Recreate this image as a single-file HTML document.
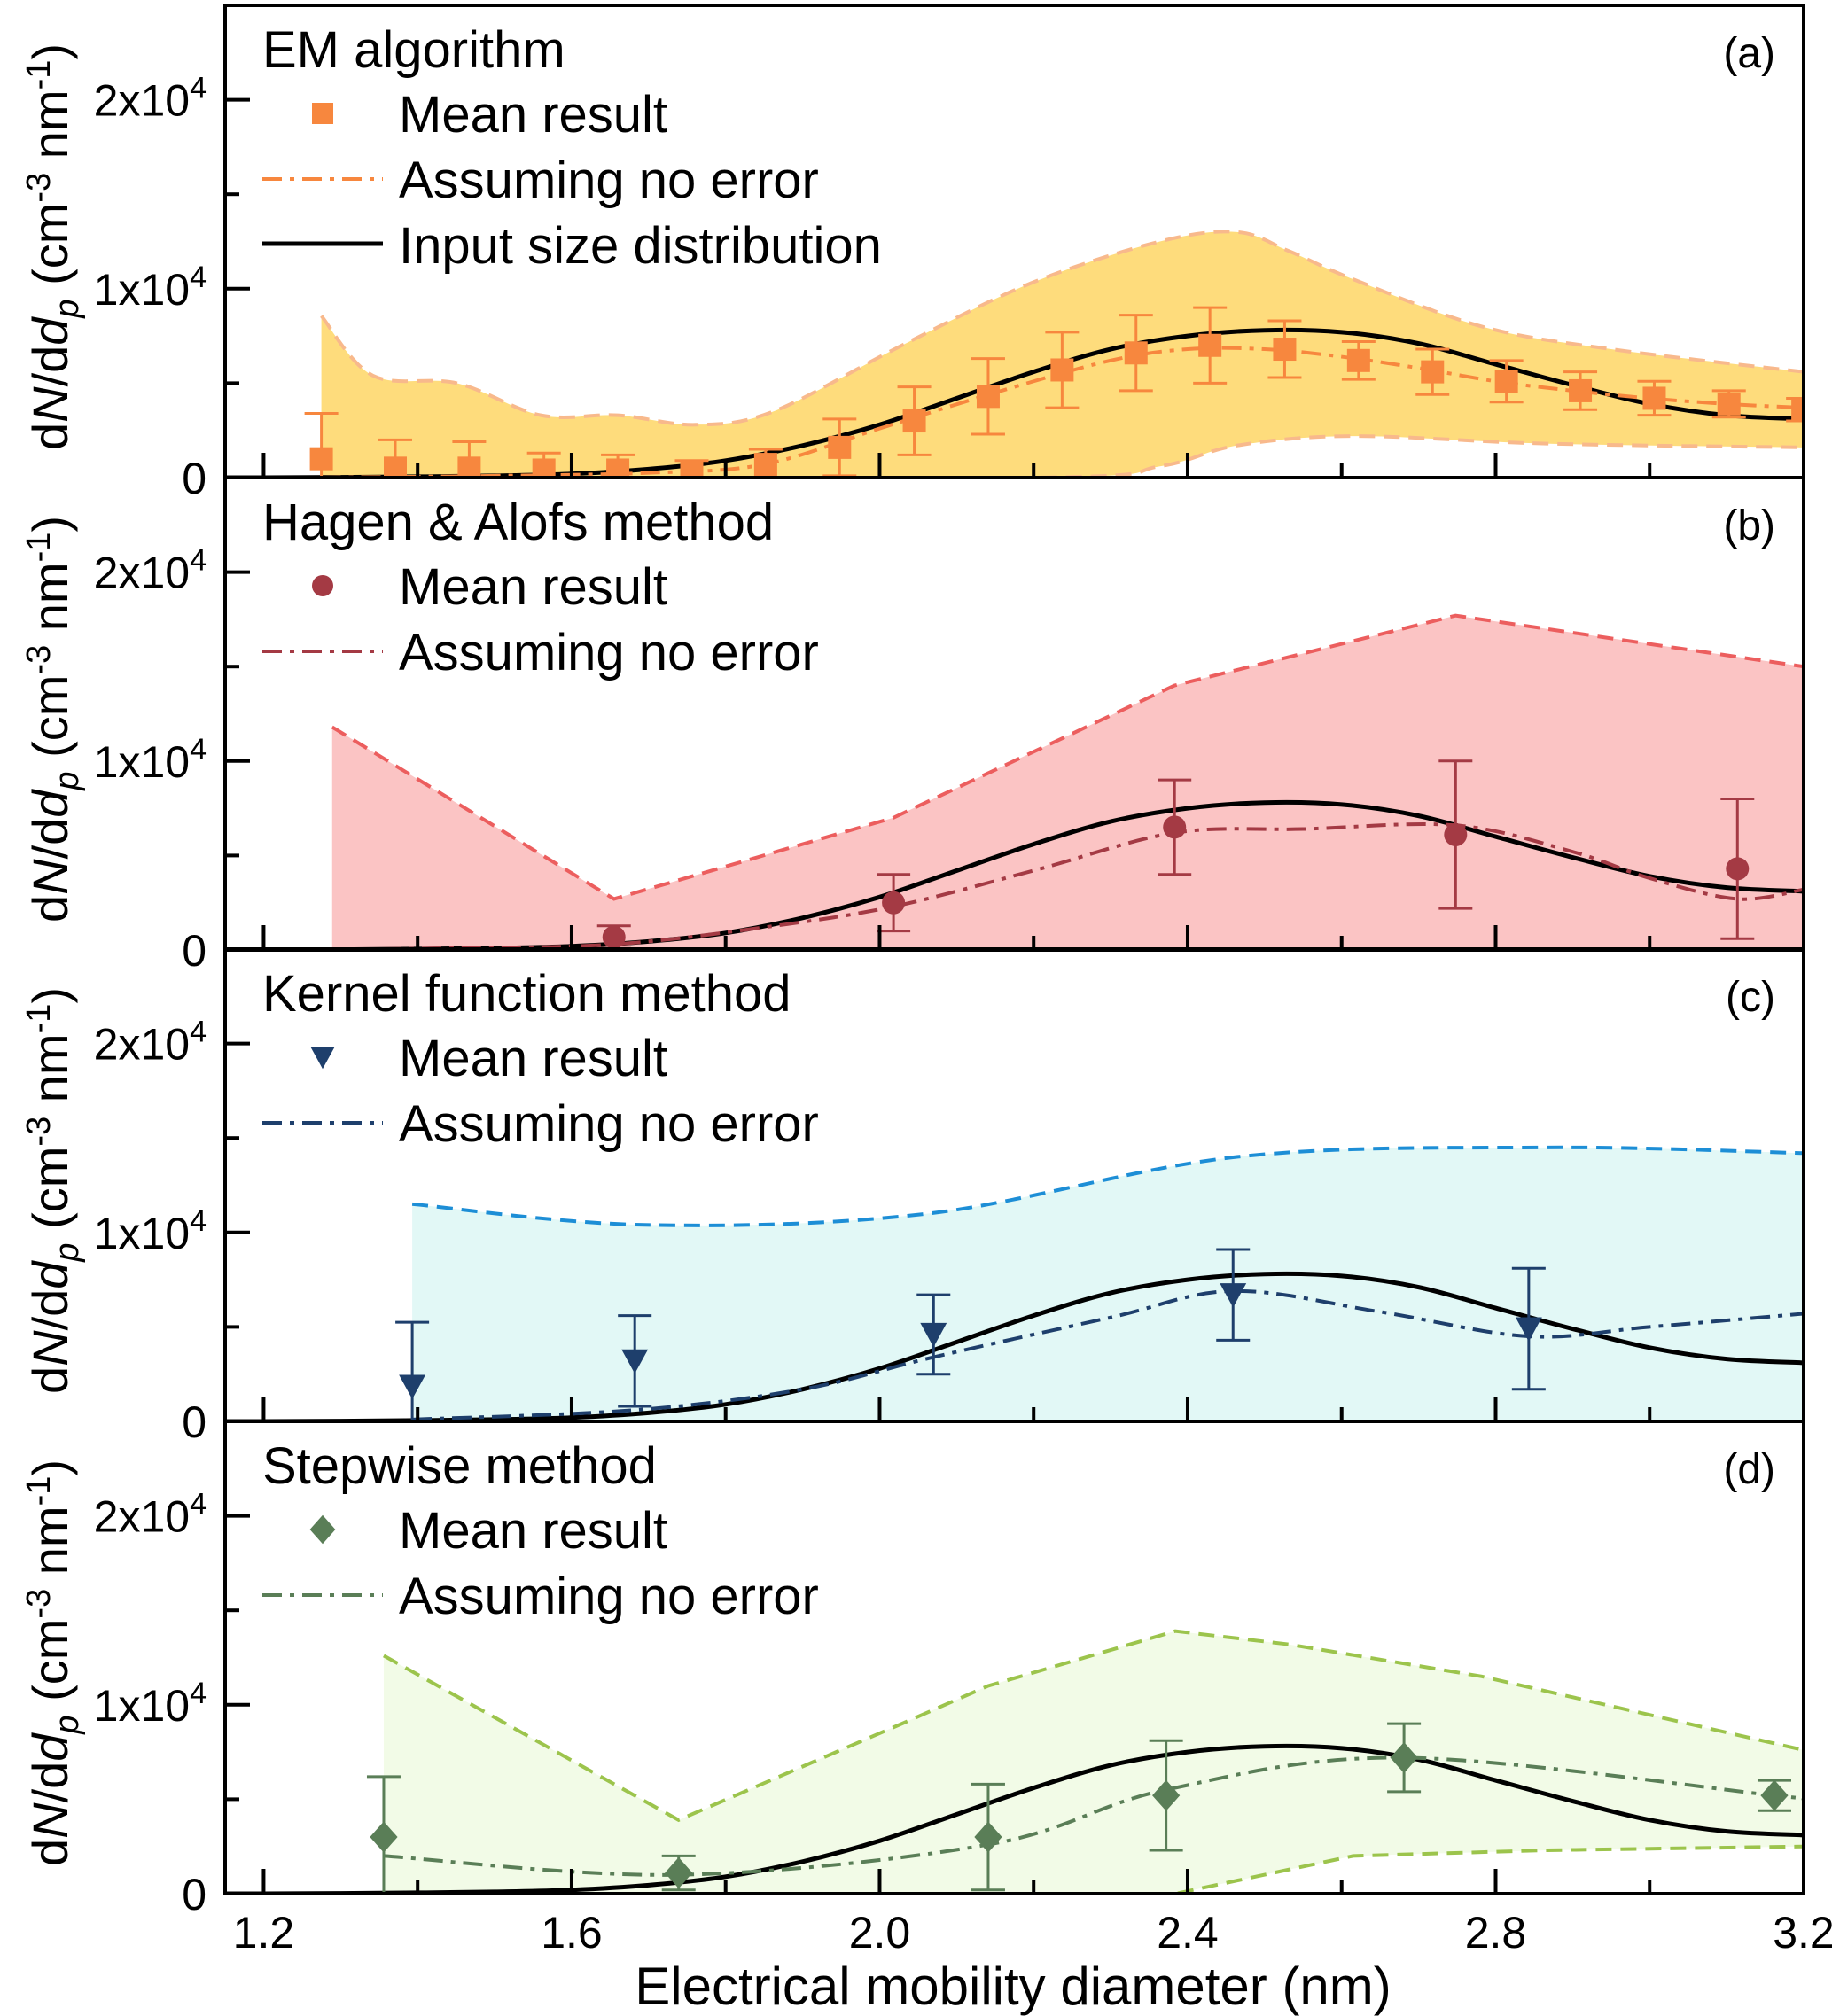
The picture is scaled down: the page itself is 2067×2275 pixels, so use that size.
<!DOCTYPE html>
<html><head><meta charset="utf-8"><style>
html,body{margin:0;padding:0;background:#fff;}
svg{display:block;font-family:"Liberation Sans",Arial,sans-serif;}
</style></head><body>
<svg id="chart" width="2067" height="2275" viewBox="0 0 2067 2275" xmlns="http://www.w3.org/2000/svg">
<g id="root"></g>
</svg>
<script>
// ---- shared data ----
const inputX = [1.15,1.2,1.3,1.4,1.5,1.6,1.7,1.8,1.9,2.0,2.1,2.2,2.3,2.4,2.5,2.6,2.7,2.8,2.9,3.0,3.1,3.2];
const inputY = [0,0,20,50,100,200,450,900,1700,2800,4200,5600,6800,7500,7800,7700,7100,6000,4900,3900,3300,3100];
const xTicks = [1.2,1.6,2.0,2.4,2.8,3.2];
const xTickLabels = ["1.2","1.6","2.0","2.4","2.8","3.2"];
const yTicks = [0,10000,20000];
// ---- panel a: EM ----
const aX = [1.275,1.371,1.467,1.564,1.660,1.756,1.852,1.948,2.045,2.141,2.237,2.333,2.429,2.526,2.622,2.718,2.814,2.910,3.006,3.103,3.199];
const aY = [1000,500,500,400,400,300,700,1600,3000,4300,5700,6600,7000,6800,6200,5600,5100,4600,4200,3900,3600];
const aErr = [2400,1500,1400,900,800,600,800,1500,1800,2000,2000,2000,2000,1500,1000,1200,1100,1000,900,700,600];
const aLineX = [1.275,1.5,1.7,1.85,2.0,2.15,2.3,2.4,2.5,2.6,2.7,2.8,2.9,3.0,3.1,3.2];
const aLineY = [0,100,250,700,2600,4500,6200,6800,6800,6400,5800,5100,4600,4200,3900,3700];
const aUpX = [1.275,1.342,1.451,1.560,1.660,1.761,1.862,2.029,2.197,2.364,2.464,2.531,2.615,2.782,2.950,3.200];
const aUpY = [8560,5400,5000,3300,3300,2800,3500,7000,10300,12500,13000,12000,10500,8000,6800,5600];
const aLoX = [1.275,2.197,2.364,2.464,2.615,2.866,3.200];
const aLoY = [0,0,600,1700,2200,1800,1600];
// ---- panel b: Hagen ----
const bX = [1.655,2.018,2.383,2.748,3.114];
const bY = [680,2500,6500,6100,4300];
const bErr = [600,1500,2500,3900,3700];
const bLineX = [1.25,1.45,1.655,1.85,2.018,2.2,2.383,2.55,2.748,2.9,3.0,3.114,3.2];
const bLineY = [0,100,300,1200,2300,4200,6200,6400,6600,5200,3800,2700,3200];
const bUpX = [1.289,1.655,2.018,2.383,2.748,3.200];
const bUpY = [11800,2700,7000,14000,17700,15000];
const bLoX = [1.289,3.200];
const bLoY = [0,0];
// ---- panel c: Kernel ----
const cX = [1.393,1.682,2.070,2.459,2.843];
const cY = [1850,3200,4600,6700,4900];
const cErr = [3400,2400,2100,2400,3200];
const cLineX = [1.393,1.682,1.9,2.070,2.3,2.459,2.65,2.843,3.0,3.2];
const cLineY = [100,600,1700,3400,5500,6900,5800,4500,5000,5700];
const cUpX = [1.393,1.695,2.063,2.464,2.866,3.200];
const cUpY = [11500,10400,11000,14000,14500,14200];
const cLoX = [1.393,3.200];
const cLoY = [0,0];
// ---- panel d: Stepwise ----
const dX = [1.356,1.739,2.141,2.372,2.681,3.162];
const dY = [3000,1100,3000,5200,7200,5200];
const dErr = [3200,900,2800,2900,1800,800];
const dLineX = [1.356,1.739,2.141,2.372,2.681,3.162,3.2];
const dLineY = [2000,1000,2600,5500,7200,5200,5000];
const dUpX = [1.356,1.739,2.029,2.141,2.384,2.531,2.782,3.200];
const dUpY = [12600,3900,9000,11000,13900,13200,11500,7600];
const dLoX = [1.356,2.384,2.615,2.866,3.200];
const dLoY = [0,0,2000,2300,2500];

const NS = "http://www.w3.org/2000/svg";
const root = document.getElementById('root');
const L = 254, R = 2035, X0 = 1.15, X1 = 3.2, PH = 533, YMAX = 25000;
const tops = [6, 539, 1071, 1604];
function xs(v){ return L + (v - X0) / (X1 - X0) * (R - L); }
function mk(tag, attrs, parent){ const e = document.createElementNS(NS, tag); for (const k in attrs) e.setAttribute(k, attrs[k]); (parent||root).appendChild(e); return e; }
function smooth(pts){
  let d = "M" + pts[0][0] + "," + pts[0][1];
  for (let i = 0; i < pts.length - 1; i++){
    const p0 = pts[Math.max(0,i-1)], p1 = pts[i], p2 = pts[i+1], p3 = pts[Math.min(pts.length-1,i+2)];
    const c1x = p1[0] + (p2[0]-p0[0])/6, c1y = p1[1] + (p2[1]-p0[1])/6;
    const c2x = p2[0] - (p3[0]-p1[0])/6, c2y = p2[1] - (p3[1]-p1[1])/6;
    d += " C" + c1x + "," + c1y + " " + c2x + "," + c2y + " " + p2[0] + "," + p2[1];
  }
  return d;
}
function lin(pts){ return "M" + pts.map(p => p[0] + "," + p[1]).join(" L"); }

const panels = [
  {key:'a', label:'(a)', title:'EM algorithm', X:aX, Y:aY, E:aErr, lx:aLineX, ly:aLineY, ux:aUpX, uy:aUpY, lox:aLoX, loy:aLoY,
   fill:'#fedc7c', edge:'#f8b98c', mcol:'#f7873e', marker:'square', smoothBand:true, input:true},
  {key:'b', label:'(b)', title:'Hagen & Alofs method', X:bX, Y:bY, E:bErr, lx:bLineX, ly:bLineY, ux:bUpX, uy:bUpY, lox:bLoX, loy:bLoY,
   fill:'#fbc4c4', edge:'#ec5e5e', mcol:'#a43a44', marker:'circle', smoothBand:false},
  {key:'c', label:'(c)', title:'Kernel function method', X:cX, Y:cY, E:cErr, lx:cLineX, ly:cLineY, ux:cUpX, uy:cUpY, lox:cLoX, loy:cLoY,
   fill:'#e2f8f6', edge:'#1d8ed6', mcol:'#1e3f6c', marker:'tri', smoothBand:true},
  {key:'d', label:'(d)', title:'Stepwise method', X:dX, Y:dY, E:dErr, lx:dLineX, ly:dLineY, ux:dUpX, uy:dUpY, lox:dLoX, loy:dLoY,
   fill:'#f2fbe7', edge:'#9cc44c', mcol:'#5a7e57', marker:'diamond', smoothBand:false}
];

function marker(type, x, y, col, g, s){
  s = s || 13;
  if (type === 'square') return mk('rect', {x:x-s, y:y-s, width:2*s, height:2*s, fill:col}, g);
  if (type === 'circle') return mk('circle', {cx:x, cy:y, r:s, fill:col}, g);
  if (type === 'tri') return mk('polygon', {points:(x-s*1.15)+","+(y-s)+" "+(x+s*1.15)+","+(y-s)+" "+x+","+(y+s*1.1), fill:col}, g);
  return mk('polygon', {points:x+","+(y-s*1.35)+" "+(x+s*1.2)+","+y+" "+x+","+(y+s*1.35)+" "+(x-s*1.2)+","+y, fill:col}, g);
}

panels.forEach((p, i) => {
  const T = tops[i], B = T + PH;
  const ys = v => B - v / YMAX * PH;
  const g = mk('g', {});
  
  
  const clipId = 'clip' + p.key;
  const cp = mk('clipPath', {id:clipId}, g); mk('rect', {x:L, y:T, width:R-L, height:PH}, cp);
  const pg = mk('g', {'clip-path':'url(#'+clipId+')'}, g);
  const up = p.ux.map((x,k)=>[xs(x), ys(p.uy[k])]);
  const lo = p.lox.map((x,k)=>[xs(x), ys(p.loy[k])]);
  const upD = p.smoothBand ? smooth(up) : lin(up);
  const loRev = lo.slice().reverse();
  const loD = p.smoothBand ? smooth(lo) : lin(lo);
  const loRevD = (p.smoothBand ? smooth(loRev) : lin(loRev)).replace(/^M/, ' L');
  const band = mk('path', {d: upD + loRevD + " Z", fill:p.fill, stroke:'none'}, pg);
  
  
  const ue = mk('path', {d:upD, fill:'none', stroke:p.edge, 'stroke-width':4, 'stroke-dasharray':'18,10'}, pg);
  
  
  const le = mk('path', {d:loD, fill:'none', stroke:p.edge, 'stroke-width':4, 'stroke-dasharray':'18,10'}, pg);
  
  
  const inp = mk('path', {d:smooth(inputX.map((x,k)=>[xs(x), ys(inputY[k])])), fill:'none', stroke:'#000', 'stroke-width':5}, pg);
  
  
  const ne = mk('path', {d:smooth(p.lx.map((x,k)=>[xs(x), ys(p.ly[k])])), fill:'none', stroke:p.mcol, 'stroke-width':4, 'stroke-dasharray':'22,9,5,9'}, pg);
  
  
  p.X.forEach((x,k) => {
    const px = xs(x), hi = ys(p.Y[k] + p.E[k]), lw = ys(Math.max(0, p.Y[k] - p.E[k]));
    const eb = mk('path', {d:"M"+px+","+hi+" L"+px+","+lw+" M"+(px-19)+","+hi+" L"+(px+19)+","+hi+" M"+(px-19)+","+lw+" L"+(px+19)+","+lw, stroke:p.mcol, 'stroke-width':3, fill:'none'}, pg);
    
    
    const m = marker(p.marker, px, ys(p.Y[k]), p.mcol, pg);
    
    
  });
  const fr = mk('rect', {x:L, y:T, width:R-L, height:PH, fill:'none', stroke:'#000', 'stroke-width':4}, g);
  
  
  for (let v = 1.2; v <= 3.201; v += 0.2){
    const major = Math.abs((v*10) % 4) < 0.01 || Math.abs((v*10) % 4 - 4) < 0.01;
    const t = mk('line', {x1:xs(v), x2:xs(v), y1:B, y2:B-(major?28:16), stroke:'#000', 'stroke-width':4}, g);
    
    
  }
  for (let v = 0; v <= 20000; v += 5000){
    const major = v % 10000 === 0;
    const t = mk('line', {x1:L, x2:L+(major?28:16), y1:ys(v), y2:ys(v), stroke:'#000', 'stroke-width':4}, g);
    
    
  }
  yTicks.forEach(v => {
    const t = mk('text', {x:233, y:ys(v)+18, 'text-anchor':'end', 'font-size':50}, g);
    
    
    if (v === 0) t.textContent = '0';
    else { t.appendChild(document.createTextNode((v/10000) + 'x10')); const s = mk('tspan', {'font-size':34, dy:-20}, t); s.textContent = '4'; }
  });
  const yt = mk('text', {transform:'translate(76,'+(T+PH/2+6)+') rotate(-90)', 'text-anchor':'middle', 'font-size':56}, g);
  
  
  yt.innerHTML = 'd<tspan font-style="italic">N</tspan>/d<tspan font-style="italic">d</tspan><tspan font-style="italic" font-size="38" dy="12">p</tspan><tspan dy="-12"> (cm</tspan><tspan font-size="38" dy="-20">-3</tspan><tspan dy="20"> nm</tspan><tspan font-size="38" dy="-20">-1</tspan><tspan dy="20">)</tspan>';
  const pl = mk('text', {x:2003, y:T+70, 'text-anchor':'end', 'font-size':48}, g);
  
  
  pl.textContent = p.label;
  const lg = mk('g', {}, g);
  
  
  const ti = mk('text', {x:296, y:T+70, 'font-size':58}, lg);
  
  
  ti.textContent = p.title;
  marker(p.marker, 364, T+122, p.mcol, lg, 12);
  const t1 = mk('text', {x:450, y:T+143, 'font-size':58}, lg);
  
  
  t1.textContent = 'Mean result';
  mk('line', {x1:296, x2:432, y1:T+196, y2:T+196, stroke:p.mcol, 'stroke-width':4, 'stroke-dasharray':'22,9,5,9'}, lg);
  const t2 = mk('text', {x:450, y:T+217, 'font-size':58}, lg);
  
  
  t2.textContent = 'Assuming no error';
  if (p.input){
    mk('line', {x1:296, x2:432, y1:T+269, y2:T+269, stroke:'#000', 'stroke-width':5}, lg);
    const t3 = mk('text', {x:450, y:T+291, 'font-size':58}, lg);
    
    
    t3.textContent = 'Input size distribution';
  }
});
xTicks.forEach((v,k) => {
  const t = mk('text', {x:xs(v), y:2198, 'text-anchor':'middle', 'font-size':50});
  
  
  t.textContent = xTickLabels[k];
});
const xt = mk('text', {x:1143, y:2262, 'text-anchor':'middle', 'font-size':60});


xt.textContent = 'Electrical mobility diameter (nm)';
</script>
</body></html>
